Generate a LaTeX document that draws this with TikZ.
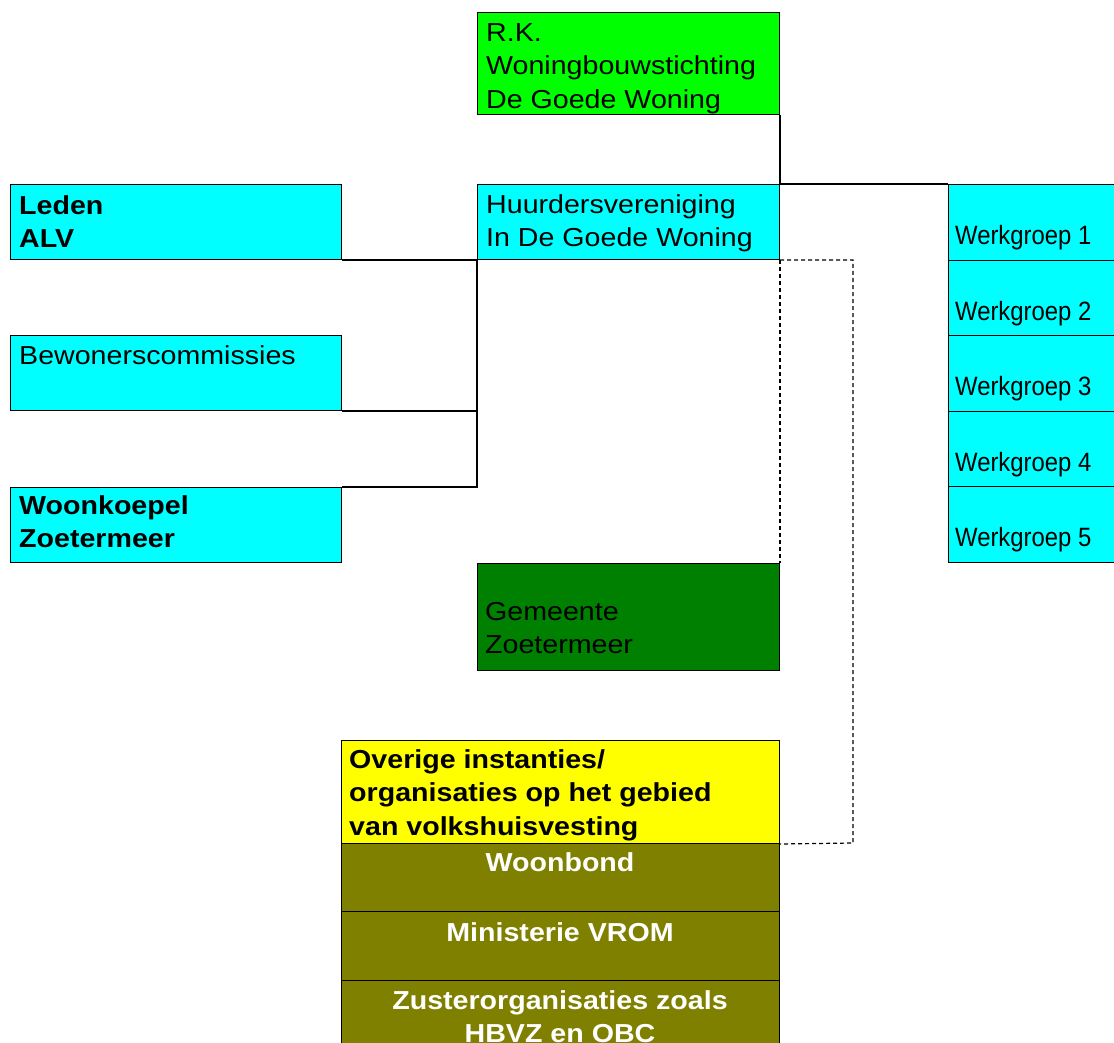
\documentclass[tikz,border=0pt]{standalone}
\usepackage{fontspec}
\setmainfont{Liberation Sans}[FakeStretch=1.1]
\newfontfamily\wgfont{Liberation Sans}[FakeStretch=0.9]

\definecolor{lightgreen}{RGB}{0,255,0}
\definecolor{aqua}{RGB}{0,255,255}
\definecolor{darkgreen}{RGB}{0,128,0}
\definecolor{geel}{RGB}{255,255,0}
\definecolor{olijf}{RGB}{128,128,0}

\tikzset{
  box/.style={draw=black, line width=1pt, rectangle, anchor=north west, inner sep=0pt},
  txt/.style={anchor=north west, inner sep=0pt, align=left, font=\fontsize{26}{33.5}\selectfont},
  bold/.style={txt, font=\fontsize{26}{33.5}\selectfont\bfseries},
  wit/.style={anchor=north, inner sep=0pt, align=center, text=white, font=\fontsize{26}{33.5}\selectfont\bfseries},
  link/.style={line width=1.2pt},
  losse/.style={line width=1.2pt, dash pattern=on 4pt off 3pt}
}

\begin{document}
\begin{tikzpicture}[x=1pt,y=-1pt]
\clip (0,0) rectangle (1114,1043);
%\draw[help lines] (0,0) grid[step=100] (1114,1043);

% boxes
\node[box, fill=lightgreen, minimum width=302pt, minimum height=102pt] at (477,12) (rk) {};
\node[box, fill=aqua, minimum width=302pt, minimum height=75pt] at (477,184) (huur) {};
\node[box, fill=aqua, minimum width=331pt, minimum height=75pt] at (10,184) (leden) {};
\node[box, fill=aqua, minimum width=331pt, minimum height=75pt] at (10,335) (bew) {};
\node[box, fill=aqua, minimum width=331pt, minimum height=75pt] at (10,487) (koepel) {};
\foreach \i in {1,...,5}
  \node[box, fill=aqua, minimum width=180pt, minimum height=75.6pt] at (948,{184+(\i-1)*75.6}) (wg\i) {};
\node[box, fill=darkgreen, minimum width=302pt, minimum height=107pt] at (477,563) (gem) {};
\node[box, fill=geel, minimum width=438pt, minimum height=103pt] at (341,740) (overig) {};
\node[box, fill=olijf, minimum width=438pt, minimum height=68pt] at (341,843) (bond) {};
\node[box, fill=olijf, minimum width=438pt, minimum height=69pt] at (341,911) (vrom) {};
\node[box, fill=olijf, minimum width=438pt, minimum height=80pt] at (341,980) (zuster) {};

% texts
\node[txt] at (486,23) (rkt) {R.K.\\Woningbouwstichting\\De Goede Woning};
\node[txt] at (486,194) (huurt) {Huurdersvereniging\\In De Goede Woning};
\node[bold] at (19,195) (ledent) {Leden\\ALV};
\node[txt] at (19,345) (bewt) {Bewonerscommissies};
\node[bold] at (19,495) (koepelt) {Woonkoepel\\Zoetermeer};
\foreach \i in {1,...,5}
  \node[txt, font=\fontsize{26.5}{30}\wgfont] at (955,{225+(\i-1)*75.6}) (wg\i t) {Werkgroep \i};
\node[txt] at (485,602) (gemt) {Gemeente\\Zoetermeer};
\node[bold] at (349,749) (overigt) {Overige instanties/\\organisaties op het gebied\\van volkshuisvesting};
\node[wit] at (560,852) (bondt) {Woonbond};
\node[wit] at (560,922) (vromt) {Ministerie VROM};
\node[wit] at (560,990) (zustert) {Zusterorganisaties zoals\\HBVZ en OBC};

% lines
\draw[link] (rk.south east) -- (huur.north east) -- (wg1.north west);
\draw[link] (leden.south east) -- (huur.south west) |- (bew.south east);
\draw[link] (huur.south west) |- (koepel.north east);

\coordinate (kink) at (853,843);
\draw[losse] (huur.south east) -- (gem.north east);
\draw[losse] (huur.south east) -| (kink) -- (overig.south east);

\end{tikzpicture}
\end{document}
